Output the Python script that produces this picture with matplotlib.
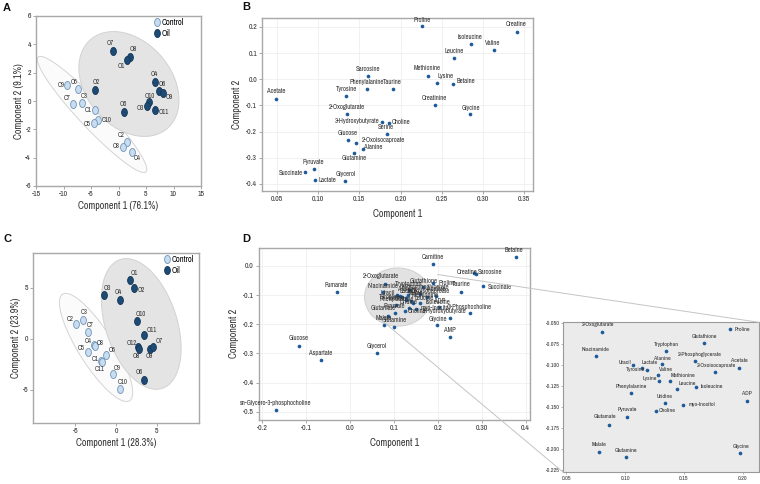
import numpy as np
import matplotlib
matplotlib.use("Agg")
import matplotlib.pyplot as plt
from matplotlib import font_manager
from matplotlib.path import Path
from matplotlib.transforms import Affine2D
from matplotlib.patches import ConnectionPatch

_names = {f.name for f in font_manager.fontManager.ttflist}
FONT = next((f for f in ["Liberation Sans Narrow", "Arial Narrow", "Archivo Narrow",
                         "Roboto Condensed"] if f in _names), "Liberation Sans")
plt.rcParams["font.family"] = [FONT, "DejaVu Sans"]
plt.rcParams["axes.unicode_minus"] = False

# ---------------- data ----------------
# Panel A (score plot)
a_ctrl_labels = ["C9", "C6", "C7", "C3", "C1", "C10", "C5", "C2", "C8", "C4"]
a_ctrl_x = [-9.36, -7.42, -8.33, -6.58, -4.27, -3.73, -4.39, 1.48, 0.88, 2.45]
a_ctrl_y = [1.11, 0.87, -0.24, -0.14, -0.64, -1.36, -1.53, -2.87, -3.27, -3.60]
a_oil_labels = ["O7", "O8", "O1", "O4", "O2", "O6", "O9", "O10", "O3", "O5", "O11"]
a_oil_x = [-1.06, 2.15, 1.61, 6.58, -4.27, 7.30, 8.09, 5.48, 5.18, 1.00, 6.70]
a_oil_y = [3.53, 3.11, 2.87, 1.32, 0.75, 0.73, 0.56, -0.09, -0.33, -0.78, -0.66]

# Panel C (score plot)
c_ctrl_labels = ["C2", "C3", "C7", "C4", "C8", "C5", "C6", "C1", "C11", "C9", "C10"]
c_ctrl_x = [-4.88, -4.10, -3.40, -2.75, -2.58, -3.44, -1.19, -1.89, -1.76, -0.33, 0.49]
c_ctrl_y = [1.47, 1.83, 0.62, -0.62, -0.75, -1.31, -1.57, -2.22, -2.25, -3.46, -4.90]
c_oil_labels = ["O1", "O2", "O3", "O4", "O10", "O11", "O12", "O8", "O9", "O7", "O6"]
c_oil_x = [1.76, 2.25, -1.48, 0.53, 2.62, 3.40, 2.70, 2.83, 4.14, 4.55, 3.40]
c_oil_y = [5.78, 4.97, 4.31, 3.82, 1.76, 0.39, -0.85, -0.98, -0.98, -0.78, -4.02]

# Panel B (loadings)
b_names = ["Proline", "Isoleucine", "Valine", "Creatine", "Leucine", "Methionine",
           "Lysine", "Betaine", "Sarcosine", "Phenylalanine", "Taurine", "Tyrosine",
           "Acetate", "Creatinine", "Glycine", "2-Oxoglutarate", "3-Hydroxybutyrate",
           "Choline", "Serine", "Glucose", "2-Oxoisocaproate", "Alanine", "Glutamine",
           "Pyruvate", "Succinate", "Lactate", "Glycerol"]
b_x = [0.2264, 0.2855, 0.3133, 0.3410, 0.2650, 0.2333, 0.2445, 0.2642, 0.1609, 0.1593,
       0.1903, 0.1340, 0.0490, 0.2417, 0.2847, 0.1348, 0.1774, 0.1862, 0.1834, 0.1364,
       0.1460, 0.1541, 0.1436, 0.0950, 0.0842, 0.0966, 0.1328]
b_y = [0.2026, 0.1348, 0.1117, 0.1810, 0.0810, 0.0132, -0.0162, -0.0175, 0.0132, -0.0380,
       -0.0354, -0.0648, -0.0763, -0.0980, -0.1339, -0.1313, -0.1633, -0.1659, -0.2094,
       -0.2337, -0.2426, -0.2657, -0.2810, -0.3424, -0.3539, -0.3859, -0.3872]

# Panel D (loadings) - points outside the zoomed cluster
d_names = ["Betaine", "Carnitine", "Creatine", "Sarcosine", "Succinate", "Taurine",
           "Fumarate", "O-Phosphocholine", "3-Hydroxybutyrate", "AMP", "Glucose",
           "Aspartate", "Glycerol", "sn-Glycero-3-phosphocholine"]
d_x = [0.377, 0.190, 0.282, 0.287, 0.303, 0.253, -0.030, 0.2725, 0.227, 0.227,
       -0.1166, -0.0656, 0.061, -0.1678]
d_y = [0.031, 0.006, -0.026, -0.027, -0.070, -0.090, -0.088, -0.161, -0.180, -0.245,
       -0.273, -0.323, -0.300, -0.495]

# Panel D cluster (also shown in the zoomed inset)
z_names = ["2-Oxoglutarate", "Proline", "Glutathione", "Tryptophan", "Niacinamide",
           "2-Phosphoglycerate", "Alanine", "Uracil", "Lactate", "Tyrosine", "Acetate",
           "2-Oxoisocaproate", "Valine", "Lysine", "Methionine", "Leucine", "Isoleucine",
           "Phenylalanine", "ADP", "Uridine", "myo-Inositol", "Choline", "Pyruvate",
           "Glutamate", "Malate", "Glutamine", "Glycine"]
z_x = [0.0805, 0.1893, 0.1674, 0.1348, 0.0749, 0.1597, 0.1313, 0.1069, 0.1141, 0.1188,
       0.1969, 0.1767, 0.1277, 0.1285, 0.1382, 0.1439, 0.1603, 0.1052, 0.2037, 0.1336,
       0.1495, 0.1262, 0.1018, 0.0862, 0.0779, 0.1007, 0.1980]
z_y = [-0.0607, -0.0572, -0.0731, -0.0830, -0.0894, -0.0953, -0.0989, -0.1001, -0.1030,
       -0.1053, -0.1037, -0.1077, -0.1117, -0.1185, -0.1192, -0.1284, -0.1264, -0.1328,
       -0.1423, -0.1454, -0.1478, -0.1542, -0.1614, -0.1709, -0.2035, -0.2091, -0.2043]

# Tick labels
a_xticks = [-15, -10, -5, 0, 5, 10, 15]
a_yticks = [-6, -4, -2, 0, 2, 4, 6]
c_ticks = [-5, 0, 5]
b_xticklabels = ["0.05", "0.10", "0.15", "0.20", "0.25", "0.30", "0.35"]
b_yticklabels = ["-0.4", "-0.3", "-0.2", "-0.1", "0.0", "0.1", "0.2"]
d_xticklabels = ["-0.2", "-0.1", "0.0", "0.1", "0.2", "0.30", "0.4"]
d_yticklabels = ["-0.5", "-0.4", "-0.3", "-0.2", "-0.1", "0.0"]
i_xticklabels = ["0.05", "0.10", "0.15", "0.20"]
i_yticklabels = ["-0.225", "-0.200", "-0.175", "-0.150", "-0.125", "-0.100", "-0.075", "-0.050"]

# ---------------- layout / styles ----------------
a_ctrl_off = [(-4.3, 0.5), (-2.6, 5.0), (-3.6, 4.6), (1.4, 5.0), (-4.8, 0), (6.2, 0),
              (-5.0, -1.2), (-3.6, 4.6), (-4.8, 1.0), (3.4, -4.1)]
a_oil_off = [(-1.9, 6.0), (2.2, 5.5), (-4.1, -4.3), (-0.5, 6.2), (1.0, 5.8), (2.9, 4.6),
             (4.3, -2.9), (1.0, 4.6), (-5.0, -1.4), (-0.2, 6.0), (5.8, -1.2)]
c_ctrl_off = [(-4.3, 3.4), (1.0, 5.8), (1.0, 5.3), (-3.6, 3.1), (3.8, 2.2), (-4.6, 2.9),
              (4.3, 3.6), (-3.6, 1.7), (-1.2, -5.0), (2.6, 4.6), (2.2, 5.0)]
c_oil_off = [(2.6, 4.8), (5.0, -1.2), (2.4, 5.0), (-1.4, 5.3), (2.2, 4.8), (5.5, 3.6),
             (-4.8, 3.1), (-1.9, -5.5), (0, -5.5), (4.3, 4.1), (-2.9, 5.5)]
b_off = [(0, 4.8, "c"), (-1.2, 5.0, "c"), (-0.7, 5.0, "c"), (-0.5, 5.5, "c"), (-0.2, 5.3, "c"),
         (-0.7, 5.5, "c"), (0, 5.5, "l"), (2.2, 1.9, "l"), (-0.2, 4.8, "c"), (-0.2, 5.5, "c"),
         (0, 5.0, "c"), (0, 5.0, "c"), (-0.2, 6.2, "c"), (-0.2, 5.3, "c"), (0, 4.8, "c"),
         (0, 5.0, "c"), (-1.9, 1.0, "r"), (1.9, 0.7, "l"), (-0.5, 5.0, "c"), (-0.2, 5.3, "c"),
         (4.1, 1.9, "l"), (1.2, 1.4, "l"), (0.2, -3.6, "c"), (-0.2, 4.8, "c"), (-1.4, -0.7, "r"),
         (2.4, 0.5, "l"), (0.5, 5.0, "c")]
d_off = [(-1, 4.8, "c"), (0, 5.3, "c"), (2.4, 1.2, "r"), (1.4, 1.4, "l"), (3.4, -0.5, "l"),
         (0, 5.5, "c"), (0, 5.0, "c"), (-0.5, 4.3, "c"), (-3.8, 5.3, "c"), (0.2, 5.3, "c"),
         (0, 5.5, "c"), (0, 4.8, "c"), (0, 5.0, "c"), (-0.7, 5.0, "c")]
z_off = [(-3.1, 5.3, "c"), (3.6, 0, "l"), (0, 4.3, "c"), (0, 4.3, "c"), (0.2, 4.6, "c"),
         (3.4, 4.6, "c"), (0, 4.3, "c"), (-1.7, 1.7, "r"), (0, 3.4, "l"), (-1.7, -0.2, "r"),
         (0, 5.3, "c"), (0.5, 4.6, "c"), (1.2, 3.6, "l"), (-1.0, 1.4, "r"), (0.7, 3.8, "l"),
         (1.2, 4.1, "l"), (3.4, 0.7, "l"), (0.2, 4.3, "c"), (0, 4.8, "c"), (0, 4.8, "c"),
         (3.6, 0.7, "l"), (1.7, 0, "l"), (-0.2, 5.3, "c"), (-3.1, 5.8, "c"), (0, 5.3, "c"),
         (0, 4.6, "c"), (0.5, 4.3, "c")]

# group regions: (cx, cy, half-range x, half-range y, phase deg)
a_ctrl_region = (-4.8, -0.95, 9.95, 4.1, 161)
a_oil_region = (1.9, 1.2, 9.1, 3.7, 108)
c_ctrl_region = (-2.45, -0.85, 4.5, 5.3, 146)
c_oil_region = (3.1, 1.45, 4.9, 6.4, 112)
d_zoom_region = (0.109, -0.107, 0.0755, 0.0995, 90)

CTRL_FC, CTRL_EC = "#c8ddf0", "#6f93b8"
OIL_FC, OIL_EC = "#1d4b75", "#143656"
DOT = "#1f5b99"
TXT = "#333333"
SPINE = "#a8a8a8"
ALIGN = {"c": "center", "l": "left", "r": "right"}
LAB = 7.2      # axis label size
TICK = 5.6     # tick label size
PT = 4.8       # point label size

oval = Path(Affine2D().scale(0.72, 1.0).transform(Path.unit_circle().vertices),
            Path.unit_circle().codes)

fig = plt.figure(figsize=(7.6, 4.84), dpi=100)


def box(x0, y0, x1, y1):
    return [x0 / 760, 1 - y1 / 484, (x1 - x0) / 760, (y1 - y0) / 484]


def style(ax, lsize=TICK, grid=False):
    for s in ax.spines.values():
        s.set_color(SPINE)
        s.set_linewidth(1.0)
    ax.tick_params(labelsize=lsize, colors="#999999", labelcolor=TXT, length=2,
                   width=0.6, pad=1.5)
    if grid:
        ax.grid(True, color="#ececec", lw=0.5)
        ax.set_axisbelow(True)


def region(ax, p, fc, ec, z):
    cx, cy, rx, ry, ph = p
    t = np.linspace(0, 2 * np.pi, 300)
    ax.fill(cx + rx * np.cos(t), cy + ry * np.cos(t - np.radians(ph)),
            facecolor=fc, edgecolor=ec, lw=0.7, zorder=z)


def labels(ax, names, xs, ys, offs, size):
    for n, x, y, o in zip(names, xs, ys, offs):
        ha = ALIGN[o[2]] if len(o) > 2 else "center"
        ax.annotate(n, (x, y), xytext=(o[0], o[1]), textcoords="offset points",
                    ha=ha, va="center", fontsize=size, color=TXT, zorder=5)


def score_panel(ax, cl, cx, cy, co, ol, ox, oy, oo, creg, oreg):
    region(ax, creg, "#fbfbfb", "#d4d4d4", 1)
    region(ax, oreg, "#e4e4e4", "#d2d2d2", 1.5)
    ax.plot(cx, cy, ls="none", marker=oval, ms=5.8, mfc=CTRL_FC, mec=CTRL_EC, mew=0.6,
            zorder=3, label="Control")
    ax.plot(ox, oy, ls="none", marker=oval, ms=5.8, mfc=OIL_FC, mec=OIL_EC, mew=0.6,
            zorder=3, label="Oil")
    labels(ax, cl, cx, cy, co, PT)
    labels(ax, ol, ox, oy, oo, PT)
    style(ax)


# ---- Panel A ----
axA = fig.add_axes(box(36, 16, 201, 186))
score_panel(axA, a_ctrl_labels, a_ctrl_x, a_ctrl_y, a_ctrl_off,
            a_oil_labels, a_oil_x, a_oil_y, a_oil_off, a_ctrl_region, a_oil_region)
axA.set_xlim(-15, 15)
axA.set_ylim(-6, 6)
axA.set_xticks(a_xticks)
axA.set_yticks(a_yticks)
axA.set_xlabel("Component 1 (76.1%)", fontsize=LAB, color=TXT, labelpad=3)
axA.set_ylabel("Component 2 (9.1%)", fontsize=LAB, color=TXT, labelpad=1)
axA.legend(loc="upper left", bbox_to_anchor=(0.71, 0.995), frameon=False, fontsize=6,
           handlelength=0.7, handletextpad=0.25, labelspacing=0.25, borderpad=0.1,
           borderaxespad=0)

# ---- Panel C ----
axC = fig.add_axes(box(33, 253, 199, 423))
score_panel(axC, c_ctrl_labels, c_ctrl_x, c_ctrl_y, c_ctrl_off,
            c_oil_labels, c_oil_x, c_oil_y, c_oil_off, c_ctrl_region, c_oil_region)
axC.set_xlim(-10.2, 10.2)
axC.set_ylim(-8.25, 8.4)
axC.set_xticks(c_ticks)
axC.set_yticks(c_ticks)
axC.set_xlabel("Component 1 (28.3%)", fontsize=LAB, color=TXT, labelpad=3)
axC.set_ylabel("Component 2 (23.9%)", fontsize=LAB, color=TXT, labelpad=1)
axC.legend(loc="upper left", bbox_to_anchor=(0.785, 0.995), frameon=False, fontsize=6,
           handlelength=0.7, handletextpad=0.25, labelspacing=0.25, borderpad=0.1,
           borderaxespad=0)

# ---- Panel B ----
axB = fig.add_axes(box(262, 18, 533, 191))
axB.scatter(b_x, b_y, s=7, color=DOT, zorder=3, linewidths=0)
labels(axB, b_names, b_x, b_y, b_off, PT)
style(axB, grid=True)
axB.set_xlim(0.032, 0.3606)
axB.set_ylim(-0.427, 0.234)
axB.set_xticks([float(v) for v in b_xticklabels])
axB.set_xticklabels(b_xticklabels)
axB.set_yticks([float(v) for v in b_yticklabels])
axB.set_yticklabels(b_yticklabels)
axB.set_xlabel("Component 1", fontsize=LAB, color=TXT, labelpad=5)
axB.set_ylabel("Component 2", fontsize=LAB, color=TXT, labelpad=3)

# ---- Panel D ----
axD = fig.add_axes(box(258.7, 247.7, 530, 420))
style(axD, grid=True)
region(axD, d_zoom_region, "#e2e2e2", "#cfcfcf", 1)
axD.scatter(d_x, d_y, s=7, color=DOT, zorder=3, linewidths=0)
axD.scatter(z_x, z_y, s=7, color=DOT, zorder=3, linewidths=0)
labels(axD, d_names, d_x, d_y, d_off, PT)
labels(axD, z_names, z_x, z_y, z_off, PT)
axD.set_xlim(-0.2075, 0.41)
axD.set_ylim(-0.528, 0.062)
axD.set_xticks([float(v) for v in d_xticklabels])
axD.set_xticklabels(d_xticklabels)
axD.set_yticks([float(v) for v in d_yticklabels])
axD.set_yticklabels(d_yticklabels)
axD.set_xlabel("Component 1", fontsize=LAB, color=TXT, labelpad=5)
axD.set_ylabel("Component 2", fontsize=LAB, color=TXT, labelpad=3)

# ---- Inset (zoom of cluster) ----
axI = fig.add_axes(box(563.3, 322.3, 759, 472.3))
axI.set_facecolor("#ebebeb")
axI.scatter(z_x, z_y, s=7, color=DOT, zorder=3, linewidths=0)
labels(axI, z_names, z_x, z_y, z_off, 4.3)
for s in axI.spines.values():
    s.set_color("#999999")
    s.set_linewidth(0.8)
axI.tick_params(labelsize=4.3, colors="#999999", labelcolor=TXT, length=1.5, width=0.5, pad=1)
axI.set_xlim(0.0473, 0.214)
axI.set_ylim(-0.2277, -0.049)
axI.set_xticks([float(v) for v in i_xticklabels])
axI.set_xticklabels(i_xticklabels)
axI.set_yticks([float(v) for v in i_yticklabels])
axI.set_yticklabels(i_yticklabels)

for xyA, xyB in [((0.2, -0.03), (1, 1)), ((0.072, -0.186), (0, 0))]:
    con = ConnectionPatch(xyA=xyA, coordsA=axD.transData, xyB=xyB, coordsB=axI.transAxes,
                          color="#c4c4c4", lw=0.7, zorder=6)
    fig.add_artist(con)

# panel letters
for letter, x, y in [("A", 3, 8), ("B", 242, 7), ("C", 3, 239), ("D", 242, 239)]:
    fig.text(x / 760, 1 - y / 484, letter, fontsize=8, fontweight="bold", va="center",
             ha="left", color="#111111", family=["Liberation Sans", "DejaVu Sans"])

fig.savefig("out.png", dpi=100)
